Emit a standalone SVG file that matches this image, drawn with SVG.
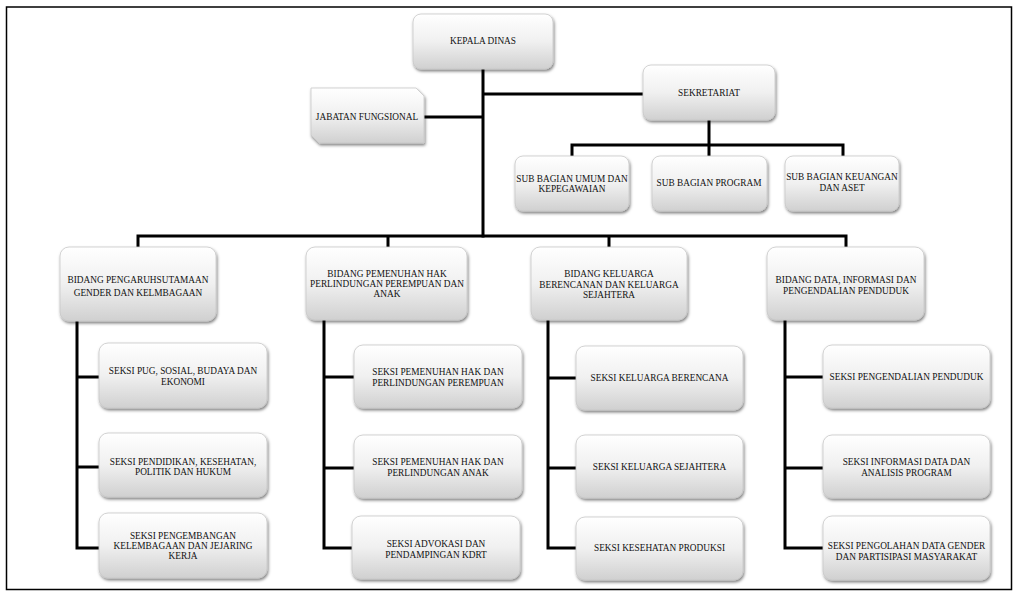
<svg xmlns="http://www.w3.org/2000/svg" width="1021" height="600" viewBox="0 0 1021 600">
<defs>
<linearGradient id="g" x1="0" y1="0" x2="0" y2="1">
<stop offset="0" stop-color="#ffffff"/>
<stop offset="0.5" stop-color="#f0f0f0"/>
<stop offset="1" stop-color="#d0d0d0"/>
</linearGradient>
<filter id="sh" x="-10%" y="-10%" width="125%" height="135%">
<feDropShadow dx="1" dy="2" stdDeviation="1.5" flood-color="#000" flood-opacity="0.5"/>
</filter>
<style>
.box{fill:url(#g);stroke:#c8c8c8;stroke-width:0.8;filter:url(#sh)}
.t{font-family:"Liberation Serif","DejaVu Serif",serif;font-size:9.3px;fill:#111;text-anchor:middle}
.c{fill:none;stroke:#000;stroke-width:3;stroke-linecap:square}
</style>
</defs>
<rect x="0" y="0" width="1021" height="600" fill="#fff"/>
<rect x="6.5" y="7" width="1005" height="582.5" fill="none" stroke="#000" stroke-width="1.5"/>
<g id="connectors">
<path class="c" d="M483,69V236M483,94H643M424,117H483"/>
<path class="c" d="M709,120V145M572,145H843M572,145V156M709,145V156M843,145V156"/>
<path class="c" d="M138,236H846M138,236V247M388,236V247M609,236V247M846,236V247"/>
<path class="c" d="M77,321V548M77,377H99M77,467H99M77,548H99"/>
<path class="c" d="M324,320V548M324,377H354M324,468H354M324,548H352"/>
<path class="c" d="M548,320V548M548,378H576M548,468H576M548,548H576"/>
<path class="c" d="M785,320V548M785,377H823M785,468H823M785,548H823"/>
</g>
<g id="kepala"><rect class="box" x="413" y="14" width="140" height="55" rx="8"/><text class="t" x="483" y="44">KEPALA DINAS</text></g>
<g id="sekretariat"><rect class="box" x="643" y="65" width="132" height="55" rx="8"/><text class="t" x="709" y="96">SEKRETARIAT</text></g>
<g id="jabatan"><path class="box" d="M311,88H416L424,96V143H319L311,135Z"/><text class="t" x="367" y="120">JABATAN FUNGSIONAL</text></g>
<g id="sub-umum"><rect class="box" x="515" y="156" width="114" height="55" rx="8"/><text class="t" x="572" y="182">SUB BAGIAN UMUM DAN</text><text class="t" x="572" y="192">KEPEGAWAIAN</text></g>
<g id="sub-program"><rect class="box" x="652" y="156" width="115" height="55" rx="8"/><text class="t" x="709" y="186">SUB BAGIAN PROGRAM</text></g>
<g id="sub-keuangan"><rect class="box" x="785" y="156" width="114" height="55" rx="8"/><text class="t" x="842" y="180">SUB BAGIAN KEUANGAN</text><text class="t" x="842" y="191">DAN ASET</text></g>
<g id="bidang1"><rect class="box" x="60" y="247" width="156" height="74" rx="9"/><text class="t" x="138" y="283">BIDANG PENGARUHSUTAMAAN</text><text class="t" x="138" y="295.5">GENDER DAN KELMBAGAAN</text></g>
<g id="bidang2"><rect class="box" x="306" y="247" width="161" height="73" rx="9"/><text class="t" x="387" y="276.5">BIDANG PEMENUHAN HAK</text><text class="t" x="387" y="287">PERLINDUNGAN PEREMPUAN DAN</text><text class="t" x="387" y="297">ANAK</text></g>
<g id="bidang3"><rect class="box" x="531" y="247" width="156" height="73" rx="9"/><text class="t" x="609" y="277">BIDANG KELUARGA</text><text class="t" x="609" y="287.5">BERENCANAN DAN KELUARGA</text><text class="t" x="609" y="297.5">SEJAHTERA</text></g>
<g id="bidang4"><rect class="box" x="767" y="247" width="157" height="73" rx="9"/><text class="t" x="846" y="282.5">BIDANG DATA, INFORMASI DAN</text><text class="t" x="846" y="294">PENGENDALIAN PENDUDUK</text></g>
<g id="seksi-1-1"><rect class="box" x="99" y="343" width="168" height="65" rx="9"/><text class="t" x="183" y="374">SEKSI PUG, SOSIAL, BUDAYA DAN</text><text class="t" x="183" y="385">EKONOMI</text></g>
<g id="seksi-1-2"><rect class="box" x="99" y="433" width="168" height="64" rx="9"/><text class="t" x="183" y="464.5">SEKSI PENDIDIKAN, KESEHATAN,</text><text class="t" x="183" y="475">POLITIK DAN HUKUM</text></g>
<g id="seksi-1-3"><rect class="box" x="99" y="513" width="168" height="65" rx="9"/><text class="t" x="183" y="538.5">SEKSI PENGEMBANGAN</text><text class="t" x="183" y="548.5">KELEMBAGAAN DAN JEJARING</text><text class="t" x="183" y="558.5">KERJA</text></g>
<g id="seksi-2-1"><rect class="box" x="354" y="345" width="168" height="63" rx="9"/><text class="t" x="438" y="375">SEKSI PEMENUHAN HAK DAN</text><text class="t" x="438" y="386">PERLINDUNGAN PEREMPUAN</text></g>
<g id="seksi-2-2"><rect class="box" x="354" y="435" width="168" height="63" rx="9"/><text class="t" x="438" y="465">SEKSI PEMENUHAN HAK DAN</text><text class="t" x="438" y="476">PERLINDUNGAN ANAK</text></g>
<g id="seksi-2-3"><rect class="box" x="352" y="516" width="168" height="63" rx="9"/><text class="t" x="436" y="547">SEKSI ADVOKASI DAN</text><text class="t" x="436" y="558">PENDAMPINGAN KDRT</text></g>
<g id="seksi-3-1"><rect class="box" x="576" y="346" width="167" height="64" rx="9"/><text class="t" x="659.5" y="381">SEKSI KELUARGA BERENCANA</text></g>
<g id="seksi-3-2"><rect class="box" x="576" y="435" width="167" height="63" rx="9"/><text class="t" x="659.5" y="470">SEKSI KELUARGA SEJAHTERA</text></g>
<g id="seksi-3-3"><rect class="box" x="576" y="517" width="167" height="63" rx="9"/><text class="t" x="659.5" y="551">SEKSI KESEHATAN PRODUKSI</text></g>
<g id="seksi-4-1"><rect class="box" x="823" y="345" width="167" height="63" rx="9"/><text class="t" x="906.5" y="380">SEKSI PENGENDALIAN PENDUDUK</text></g>
<g id="seksi-4-2"><rect class="box" x="823" y="435" width="167" height="63" rx="9"/><text class="t" x="906.5" y="465">SEKSI INFORMASI DATA DAN</text><text class="t" x="906.5" y="476">ANALISIS PROGRAM</text></g>
<g id="seksi-4-3"><rect class="box" x="823" y="516" width="167" height="64" rx="9"/><text class="t" x="906.5" y="549">SEKSI PENGOLAHAN DATA GENDER</text><text class="t" x="906.5" y="560">DAN PARTISIPASI MASYARAKAT</text></g>
</svg>
